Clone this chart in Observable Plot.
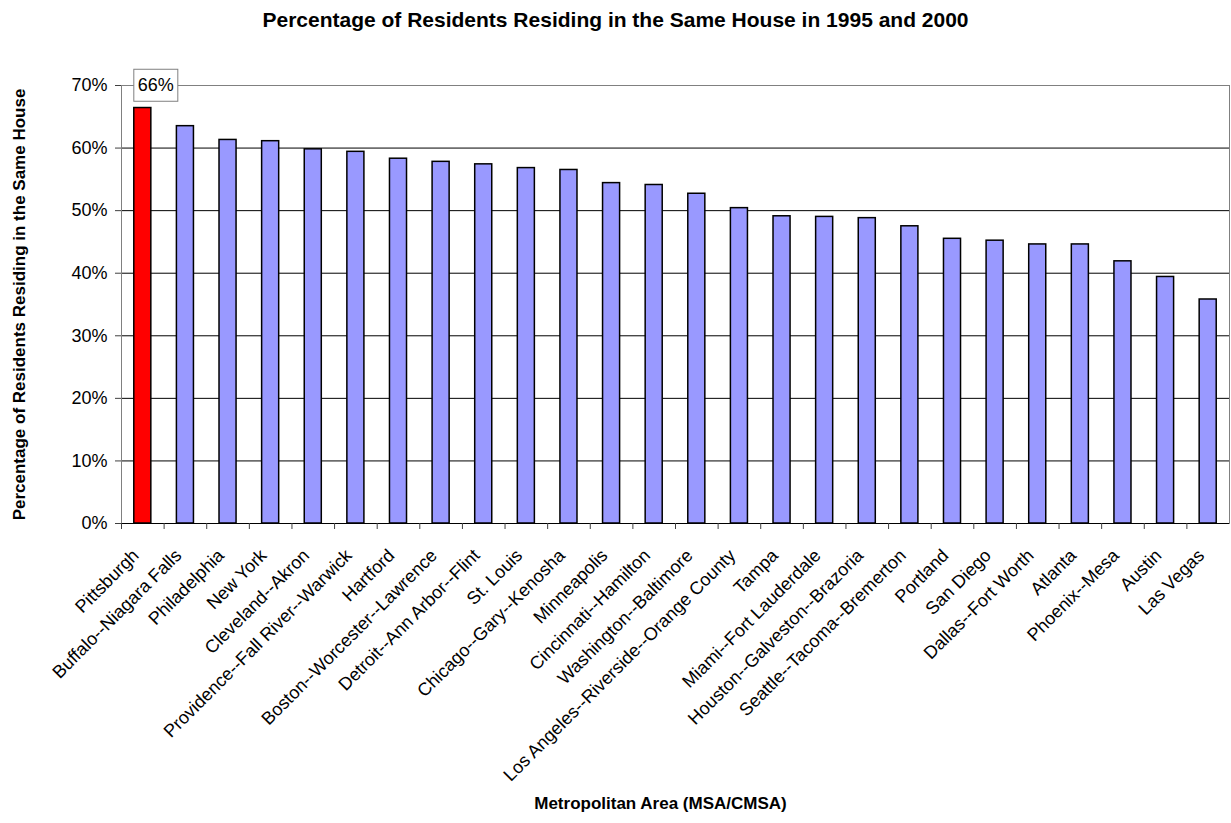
<!DOCTYPE html>
<html><head><meta charset="utf-8">
<script src="https://cdn.jsdelivr.net/npm/d3@7"></script>
<script src="https://cdn.jsdelivr.net/npm/@observablehq/plot@0.6"></script>
<style>
body{margin:0;background:#fff;font-family:"Liberation Sans",Arial,sans-serif;}
#title{height:40px;line-height:40px;text-align:center;font-weight:bold;font-size:21px;color:#000;}
#chart svg{display:block;}
</style></head><body>
<div id="title">Percentage of Residents Residing in the Same House in 1995 and 2000</div>
<div id="chart"></div>
<script>
const areas = ["Pittsburgh","Buffalo--Niagara Falls","Philadelphia","New York","Cleveland--Akron",
  "Providence--Fall River--Warwick","Hartford","Boston--Worcester--Lawrence","Detroit--Ann Arbor--Flint",
  "St. Louis","Chicago--Gary--Kenosha","Minneapolis","Cincinnati--Hamilton","Washington--Baltimore",
  "Los Angeles--Riverside--Orange County","Tampa","Miami--Fort Lauderdale","Houston--Galveston--Brazoria",
  "Seattle--Tacoma--Bremerton","Portland","San Diego","Dallas--Fort Worth","Atlanta","Phoenix--Mesa",
  "Austin","Las Vegas"];
const shares = [0.664,0.635,0.613,0.611,0.598,0.594,0.583,0.578,0.574,0.568,0.565,0.544,0.541,0.527,
  0.504,0.491,0.490,0.488,0.475,0.455,0.452,0.446,0.446,0.419,0.394,0.358];
const yTicks = [0,0.1,0.2,0.3,0.4,0.5,0.6,0.7];
const highlight = "Pittsburgh";
const xTitle = "Metropolitan Area (MSA/CMSA)";
const yTitle = "Percentage of Residents Residing in the Same House";

const data = areas.map((a,i)=>({area:a, share:shares[i]}));
const W = 1231, H = 783, mL = 121, mR = 2, mT = 45, mB = 300;
const step = (W - mL - mR) / areas.length;
const pct = d3.format(".0%");

const chart = Plot.plot({
  width: W, height: H, marginTop: mT, marginBottom: mB, marginLeft: mL, marginRight: mR,
  style: {fontFamily: "'Liberation Sans', Arial, sans-serif", fontSize: "18px", background: "#fff", color: "#000"},
  x: {domain: areas, paddingInner: 0.6, paddingOuter: 0.3, round: false, label: null},
  y: {domain: [0, 0.7], label: null},
  color: {type: "identity"},
  marks: [
    Plot.ruleY(yTicks.slice(1, -1), {stroke: "#000", strokeWidth: 1}),
    Plot.frame({stroke: "#808080"}),
    Plot.barY(data, {x: "area", y: "share", fill: d => d.area === highlight ? "#FF0000" : "#9999FF", stroke: "#000", strokeWidth: 1.5}),
    Plot.ruleY([0], {stroke: "#000"}),
    Plot.axisY({ticks: yTicks, tickFormat: pct, tickSize: 6, tickPadding: 8, fontSize: 18, label: null, stroke: "#404040"}),
    Plot.axisX({tickSize: 6, tickFormat: () => "", dx: -step / 2, label: null, stroke: "#404040"}),
    Plot.axisX({tickSize: 0, tickRotate: -45, tickPadding: 29, dx: -7, fontSize: 18, label: null}),
    Plot.text(data.filter(d => d.area === highlight), {x: "area", y: () => 0.7, text: d => pct(d.share), dx: 13, fontSize: 18, className: "data-label"}),
    Plot.text([xTitle], {frameAnchor: "bottom", dx: -15, dy: 285, fontWeight: "bold", fontSize: 17}),
    Plot.text([yTitle], {frameAnchor: "left", dx: -102, rotate: -90, textAnchor: "middle", fontWeight: "bold", fontSize: 17})
  ]
});
document.getElementById("chart").appendChild(chart);

// white box with grey border behind the data label
d3.select(chart).selectAll("g.data-label text").each(function() {
  const b = this.getBBox();
  const bw = 44, bh = 32;
  const cx = b.x + b.width / 2, cy = b.y + b.height / 2;
  d3.select(this.parentNode).insert("rect", () => this)
    .attr("transform", this.getAttribute("transform"))
    .attr("x", cx - bw / 2).attr("y", cy - bh / 2)
    .attr("width", bw).attr("height", bh)
    .attr("fill", "#fff").attr("stroke", "#808080");
});
</script>
</body></html>
